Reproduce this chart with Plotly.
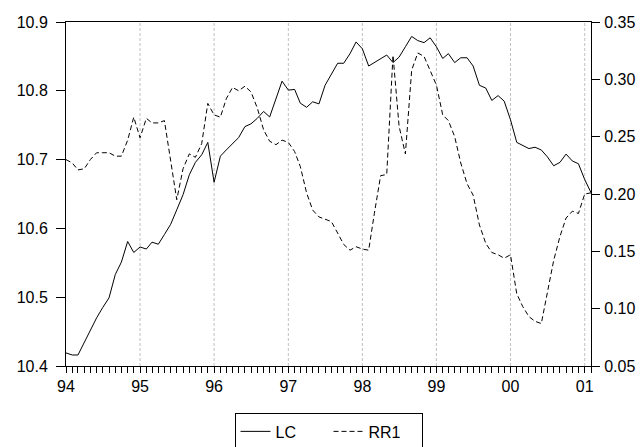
import plotly.graph_objects as go
import pandas as pd

months = pd.date_range("1994-01-01", "2001-02-01", freq="MS")

lc = [10.419, 10.416, 10.416, 10.434, 10.451, 10.470, 10.485, 10.499, 10.533, 10.551,
      10.581, 10.565, 10.573, 10.570, 10.580, 10.577, 10.591, 10.606, 10.627, 10.649,
      10.678, 10.696, 10.707, 10.725, 10.667, 10.705, 10.714, 10.723, 10.732, 10.748,
      10.752, 10.760, 10.770, 10.762, 10.787, 10.814, 10.801, 10.802, 10.782, 10.776,
      10.784, 10.781, 10.808, 10.825, 10.840, 10.840, 10.854, 10.871, 10.861, 10.836,
      10.841, 10.846, 10.852, 10.841, 10.849, 10.864, 10.879, 10.873, 10.870, 10.877,
      10.864, 10.847, 10.854, 10.841, 10.848, 10.848, 10.836, 10.808, 10.804, 10.786,
      10.793, 10.785, 10.758, 10.725, 10.721, 10.716, 10.718, 10.714, 10.704, 10.691,
      10.696, 10.708, 10.698, 10.694, 10.671, 10.652]

rr1 = [0.230, 0.227, 0.221, 0.222, 0.230, 0.236, 0.236, 0.236, 0.233, 0.233,
       0.247, 0.267, 0.249, 0.266, 0.262, 0.262, 0.264, 0.230, 0.195, 0.222,
       0.235, 0.232, 0.244, 0.279, 0.269, 0.267, 0.283, 0.293, 0.290, 0.294,
       0.289, 0.275, 0.256, 0.246, 0.243, 0.247, 0.245, 0.237, 0.224, 0.201,
       0.186, 0.180, 0.178, 0.176, 0.166, 0.156, 0.151, 0.154, 0.152, 0.151,
       0.183, 0.216, 0.217, 0.321, 0.259, 0.235, 0.308, 0.323, 0.320, 0.308,
       0.295, 0.269, 0.264, 0.250, 0.227, 0.209, 0.199, 0.173, 0.157, 0.149,
       0.147, 0.144, 0.147, 0.113, 0.102, 0.093, 0.089, 0.087, 0.113, 0.142,
       0.163, 0.179, 0.185, 0.183, 0.200, 0.201]

year_starts = [m for m in months if m.month == 1]
tick_text = [m.strftime("%y") if m.month == 1 else "" for m in months]

font = dict(family="Liberation Sans, Arial, sans-serif", size=16, color="black")

fig = go.Figure()
fig.add_trace(go.Scatter(x=months, y=lc, name="LC", mode="lines",
                         line=dict(color="black", width=1)))
fig.add_trace(go.Scatter(x=months, y=rr1, name="RR1", mode="lines", yaxis="y2",
                         line=dict(color="black", width=1, dash="5px,3px")))

for ys in year_starts[1:]:
    fig.add_vline(x=ys, line=dict(color="#c0c0c0", width=1, dash="3px,2px"), layer="below")

fig.update_layout(
    width=644, height=447,
    margin=dict(l=66, r=53, t=22, b=81, autoexpand=False),
    paper_bgcolor="white", plot_bgcolor="white",
    font=font,
    showlegend=True,
    legend=dict(orientation="h", x=0.5, xanchor="center", y=-0.138, yanchor="top",
                bordercolor="black", borderwidth=1, font=font,
                itemwidth=30, entrywidth=48, tracegroupgap=0),
    xaxis=dict(
        range=[months[0], months[-1]],
        tickmode="array", tickvals=list(months), ticktext=tick_text,
        ticks="outside", ticklen=6, tickcolor="black",
        showline=True, linecolor="black", linewidth=1, mirror=True,
        showgrid=False, zeroline=False, tickfont=font,
    ),
    yaxis=dict(
        range=[10.4, 10.9], dtick=0.1, tickformat=".1f",
        ticks="outside", ticklen=9, tickcolor="black", ticklabelstandoff=5,
        showline=True, linecolor="black", linewidth=1,
        showgrid=False, zeroline=False, tickfont=font,
    ),
    yaxis2=dict(
        range=[0.05, 0.35], dtick=0.05, tickformat=".2f",
        overlaying="y", side="right",
        ticks="outside", ticklen=8, tickcolor="black", ticklabelstandoff=1,
        showline=True, linecolor="black", linewidth=1,
        showgrid=False, zeroline=False, tickfont=font,
    ),
)

fig.write_html("out.html", config={"displayModeBar": False},
               post_script="document.body.style.margin='0';document.body.style.overflow='hidden';")
